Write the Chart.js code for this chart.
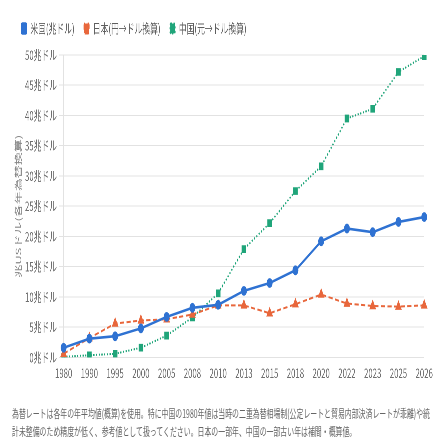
<!DOCTYPE html>
<html>
<head>
<meta charset="utf-8">
<script src="https://cdn.jsdelivr.net/npm/chart.js@4"></script>
<style>
html, body { margin: 0; padding: 0; background: #fff; overflow: hidden; }
#wrap { width: 745px; height: 447px; transform: scaleX(0.6); transform-origin: 0 0; }
#box { position: relative; width: 745px; height: 392px; }
#note { margin: 0; padding: 12px 20px 0 20px; width: 705px; font: 11.5px/18px "Noto Sans CJK JP", sans-serif; color: #666; }
</style>
</head>
<body>
<div id="wrap">
  <div id="box"><canvas id="chart"></canvas></div>
  <p id="note">為替レートは各年の年平均値(概算)を使用。特に中国の1980年値は当時の二重為替相場制(公定レートと貿易内部決済レートが乖離)や統計未整備のため精度が低く、参考値として扱ってください。日本の一部年、中国の一部古い年は補間・概算値。</p>
</div>
<script>
const anni = ["1980", "1990", "1995", "2000", "2005", "2008", "2010", "2013", "2015", "2018", "2020", "2022", "2023", "2025", "2026"];
const usa = [1.6, 3.1, 3.5, 4.8, 6.7, 8.2, 8.7, 11.0, 12.3, 14.4, 19.2, 21.3, 20.7, 22.4, 23.2];
const giappone = [0.6, 3.2, 5.6, 6.1, 6.3, 7.1, 8.6, 8.6, 7.3, 8.8, 10.4, 8.9, 8.5, 8.4, 8.6];
const cina = [0.1, 0.35, 0.6, 1.6, 3.6, 6.6, 10.6, 17.9, 22.2, 27.5, 31.6, 39.5, 41.1, 47.2, 49.8];
const etichette = ["米国(兆ドル)", "日本(円→ドル換算)", "中国(元→ドル換算)"];
const titoloY = "兆USドル(各年為替換算)";
const unita = "兆ドル";

const blu = "#2f72d2";
const arancio = "#e8673c";
const verde = "#20a57a";
const font = "'Noto Sans CJK JP', sans-serif";

Chart.defaults.font.family = font;
Chart.defaults.font.size = 13;
Chart.defaults.color = "#6e6e6e";

// un po' di spazio sotto la legenda
const spazioLegenda = {
  id: 'spazioLegenda',
  beforeInit(chart) {
    const fitOrig = chart.legend.fit;
    chart.legend.fit = function () {
      fitOrig.bind(chart.legend)();
      this.height += 10;
    };
  }
};

const ctx = document.getElementById("chart").getContext("2d");

const chart = new Chart(ctx, {
  type: 'line',
  data: {
    labels: anni,
    datasets: [{
      label: etichette[0],
      data: usa,
      borderColor: blu,
      backgroundColor: blu,
      borderWidth: 2.6,
      pointStyle: 'circle',
      pointRadius: 3.6,
      tension: 0
    }, {
      label: etichette[1],
      data: giappone,
      borderColor: arancio,
      backgroundColor: arancio,
      borderWidth: 2,
      borderDash: [7, 4],
      pointStyle: 'triangle',
      pointRadius: 4.5,
      tension: 0
    }, {
      label: etichette[2],
      data: cina,
      borderColor: verde,
      backgroundColor: verde,
      borderWidth: 2,
      borderDash: [2, 2.5],
      pointStyle: 'rect',
      pointRadius: 4,
      tension: 0
    }]
  },
  options: {
    animation: false,
    responsive: true,
    maintainAspectRatio: false,
    devicePixelRatio: 2,
    layout: {
      padding: { left: 20, right: 38, top: 6, bottom: 3 }
    },
    scales: {
      x: {
        offset: false,
        grid: { display: false, drawTicks: false },
        border: { display: false },
        ticks: { padding: 8, color: "#6e6e6e", maxRotation: 0, autoSkip: false }
      },
      y: {
        min: 0,
        max: 50,
        grid: { color: "#e2e2e2", tickLength: 8, lineWidth: 1 },
        border: { display: true, color: "#e2e2e2" },
        ticks: {
          stepSize: 5,
          padding: 3,
          color: "#6e6e6e",
          callback: (v) => v + unita
        },
        title: {
          display: true,
          text: titoloY,
          color: "#888",
          font: { size: 13 },
          padding: { top: 3, bottom: 0 }
        }
      }
    },
    plugins: {
      legend: {
        position: 'top',
        align: 'start',
        labels: {
          boxWidth: 8,
          boxHeight: 10,
          padding: 16,
          color: "#5e5e5e",
          useBorderRadius: true,
          borderRadius: 1.5,
          font: { size: 13 }
        }
      },
      tooltip: { enabled: false }
    }
  },
  plugins: [spazioLegenda]
});
</script>
</body>
</html>
